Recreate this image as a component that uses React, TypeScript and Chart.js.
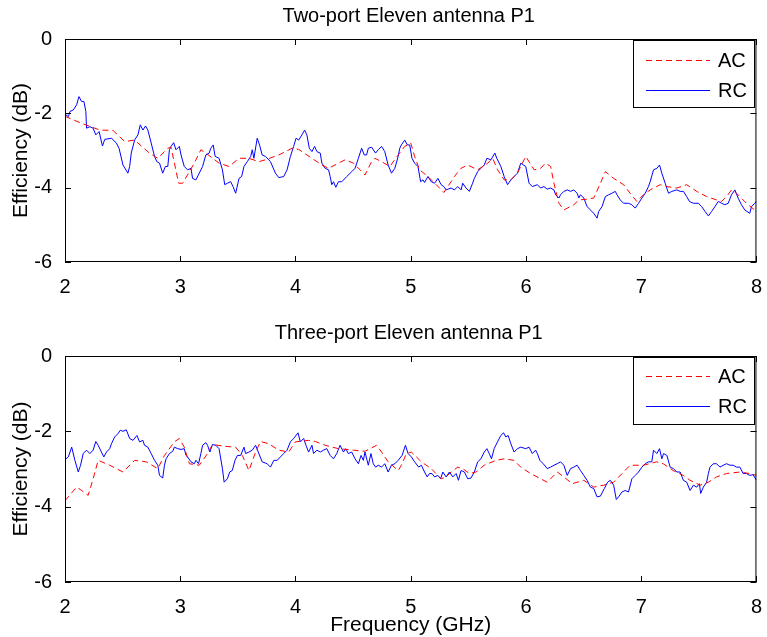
import React, { useEffect, useRef } from 'react';
import { Chart, registerables } from 'chart.js';

Chart.register(...registerables);

const FONT = '"Liberation Sans", Arial, Helvetica, sans-serif';

const xTickValues = [2, 3, 4, 5, 6, 7, 8];
const yTickValues = [0, -2, -4, -6];
const seriesNames = ['AC', 'RC'];
const seriesColors = ['rgb(255,0,0)', 'rgb(0,0,255)'];
const seriesDashes = [[6, 4], []];
const panelTitles = ['Two-port Eleven antenna P1', 'Three-port Eleven antenna P1'];
const xAxisLabel = 'Frequency (GHz)';
const yAxisLabel = 'Efficiency (dB)';

// ---- Top panel: RC (measured, blue) ----
const topRcFreq = [
  2.0, 2.009, 2.029, 2.043, 2.072, 2.101, 2.121, 2.144, 2.164, 2.181, 2.187, 2.216, 2.244, 2.267, 2.296, 2.325,
  2.345, 2.403, 2.446, 2.469, 2.503, 2.546, 2.561, 2.575, 2.604, 2.633, 2.653, 2.676, 2.699, 2.719, 2.748,
  2.777, 2.797, 2.82, 2.848, 2.871, 2.892, 2.906, 2.92, 2.943, 2.963, 2.992, 3.007, 3.035, 3.064, 3.093,
  3.107, 3.136, 3.165, 3.194, 3.222, 3.251, 3.265, 3.286, 3.303, 3.337, 3.366, 3.386, 3.409, 3.438, 3.458,
  3.481, 3.51, 3.533, 3.553, 3.582, 3.611, 3.625, 3.639, 3.668, 3.688, 3.711, 3.74, 3.783, 3.826, 3.855,
  3.898, 3.927, 3.956, 3.984, 4.005, 4.028, 4.056, 4.079, 4.099, 4.12, 4.143, 4.166, 4.186, 4.215, 4.229,
  4.258, 4.287, 4.301, 4.315, 4.33, 4.35, 4.373, 4.402, 4.445, 4.488, 4.517, 4.546, 4.574, 4.597, 4.617,
  4.632, 4.66, 4.695, 4.718, 4.747, 4.775, 4.804, 4.833, 4.862, 4.891, 4.905, 4.919, 4.948, 4.971, 4.991,
  5.011, 5.034, 5.063, 5.086, 5.106, 5.12, 5.149, 5.178, 5.207, 5.236, 5.264, 5.287, 5.307, 5.35, 5.379,
  5.408, 5.437, 5.451, 5.48, 5.509, 5.537, 5.552, 5.581, 5.609, 5.638, 5.661, 5.696, 5.73, 5.747, 5.782,
  5.811, 5.84, 5.869, 5.897, 5.926, 5.955, 5.998, 6.027, 6.055, 6.099, 6.127, 6.156, 6.185, 6.214, 6.243,
  6.257, 6.286, 6.3, 6.329, 6.358, 6.387, 6.415, 6.444, 6.459, 6.473, 6.502, 6.531, 6.559, 6.588, 6.617,
  6.631, 6.66, 6.689, 6.718, 6.746, 6.775, 6.79, 6.818, 6.847, 6.89, 6.919, 6.948, 6.977, 7.006, 7.035,
  7.063, 7.078, 7.107, 7.136, 7.159, 7.179, 7.208, 7.237, 7.266, 7.309, 7.338, 7.366, 7.395, 7.418, 7.453,
  7.496, 7.525, 7.554, 7.583, 7.611, 7.64, 7.669, 7.698, 7.726, 7.755, 7.784, 7.813, 7.841, 7.87, 7.899,
  7.942, 7.957, 7.985, 8.0,
];
const topRcEff = [
  -2.06, -2.04, -2.09, -1.95, -1.91, -1.77, -1.55, -1.68, -1.68, -1.95, -2.4, -2.36, -2.4, -2.58, -2.49, -2.88,
  -2.7, -2.67, -2.8, -2.94, -3.39, -3.61, -3.43, -3.07, -2.72, -2.58, -2.31, -2.45, -2.34, -2.45, -2.8,
  -3.16, -3.3, -3.34, -3.61, -3.43, -3.43, -2.98, -2.89, -2.79, -2.98, -2.89, -3.12, -3.43, -3.52, -3.48,
  -3.75, -3.79, -3.61, -3.43, -3.12, -3.07, -2.94, -2.85, -3.16, -3.21, -3.52, -3.92, -3.88, -3.84, -3.97,
  -4.15, -3.75, -3.7, -3.43, -3.3, -3.16, -2.98, -3.21, -2.67, -2.85, -3.12, -3.16, -3.3, -3.61, -3.73,
  -3.7, -3.52, -3.16, -2.89, -2.67, -2.72, -2.58, -2.45, -2.58, -2.94, -3.03, -2.89, -3.03, -3.07, -3.34,
  -3.48, -3.52, -3.7, -3.92, -3.84, -3.99, -3.84, -3.84, -3.7, -3.57, -3.48, -3.21, -2.94, -3.12, -3.12,
  -2.94, -2.91, -3.07, -2.98, -2.89, -3.03, -3.39, -3.61, -3.48, -3.16, -2.94, -2.85, -2.72, -2.85, -2.85,
  -3.21, -3.34, -3.43, -3.84, -3.79, -3.86, -3.7, -3.84, -3.88, -3.75, -3.92, -3.97, -4.06, -4.01, -4.06,
  -3.97, -4.06, -3.88, -4.01, -4.1, -3.88, -3.75, -3.57, -3.48, -3.39, -3.21, -3.25, -3.07, -3.21, -3.43,
  -3.7, -3.92, -3.79, -3.7, -3.61, -3.34, -3.43, -3.88, -3.97, -3.92, -4.01, -3.97, -4.04, -4.01, -4.06,
  -4.19, -4.28, -4.19, -4.1, -4.06, -4.1, -4.06, -4.15, -4.28, -4.19, -4.28, -4.51, -4.6, -4.69, -4.82,
  -4.64, -4.51, -4.24, -4.19, -4.15, -4.1, -4.19, -4.33, -4.42, -4.42, -4.46, -4.55, -4.42, -4.28, -4.15,
  -3.97, -3.84, -3.52, -3.48, -3.39, -3.61, -3.88, -4.15, -4.1, -4.06, -4.1, -4.1, -4.24, -4.37, -4.42,
  -4.42, -4.51, -4.64, -4.76, -4.64, -4.51, -4.37, -4.42, -4.46, -4.42, -4.19, -4.06, -4.28, -4.46, -4.6,
  -4.69, -4.51, -4.42, -4.37,
];

// ---- Top panel: AC (simulated, red dashed) ----
const topAcFreq = [
  2.0, 2.129, 2.302, 2.417, 2.518, 2.604, 2.733, 2.805, 2.892, 2.92, 2.986, 3.021, 3.122, 3.179, 3.222, 3.337,
  3.424, 3.51, 3.596, 3.682, 3.74, 3.855, 3.97, 4.028, 4.143, 4.229, 4.287, 4.373, 4.431, 4.503, 4.56, 4.603,
  4.66, 4.689, 4.747, 4.819, 4.891, 4.948, 5.0, 5.034, 5.077, 5.149, 5.221, 5.287, 5.35, 5.379, 5.437, 5.495,
  5.581, 5.668, 5.711, 5.754, 5.811, 5.869, 5.926, 5.998, 6.071, 6.127, 6.17, 6.214, 6.243, 6.286, 6.329,
  6.415, 6.459, 6.531, 6.588, 6.646, 6.689, 6.761, 6.847, 6.904, 6.962, 7.02, 7.078, 7.165, 7.223, 7.309,
  7.395, 7.482, 7.568, 7.654, 7.698, 7.741, 7.784, 7.827, 7.913, 8.0,
];
const topAcEff = [
  -2.08, -2.25, -2.45, -2.46, -2.76, -2.72, -3.07, -3.21, -2.94, -2.91, -3.88, -3.88, -3.34, -2.98, -3.07, -3.34,
  -3.43, -3.21, -3.21, -3.3, -3.25, -3.12, -2.94, -2.97, -3.21, -3.39, -3.48, -3.34, -3.25, -3.34, -3.52, -3.66,
  -3.3, -3.21, -3.3, -3.43, -3.12, -2.89, -2.8, -3.16, -3.52, -3.7, -3.92, -4.13, -3.84, -3.7, -3.48, -3.39,
  -3.52, -3.34, -3.21, -3.52, -3.79, -3.79, -3.61, -3.16, -3.52, -3.48, -3.34, -3.43, -3.88, -4.42, -4.6,
  -4.46, -4.33, -4.31, -4.28, -3.88, -3.57, -3.75, -3.92, -4.15, -4.37, -4.19, -4.06, -3.92, -3.97, -4.01,
  -3.92, -4.1, -4.24, -4.33, -4.37, -4.24, -4.06, -4.15, -4.42, -4.64,
];

// ---- Bottom panel: RC (measured, blue) ----
const botRcFreq = [
  2.0, 2.009, 2.029, 2.058, 2.086, 2.115, 2.135, 2.158, 2.187, 2.216, 2.244, 2.267, 2.288, 2.316, 2.337, 2.36,
  2.388, 2.403, 2.431, 2.46, 2.48, 2.503, 2.532, 2.561, 2.59, 2.624, 2.647, 2.676, 2.69, 2.719, 2.748, 2.777,
  2.805, 2.82, 2.848, 2.863, 2.877, 2.906, 2.935, 2.949, 2.978, 3.007, 3.035, 3.05, 3.064, 3.093, 3.122,
  3.136, 3.159, 3.179, 3.194, 3.222, 3.237, 3.257, 3.28, 3.309, 3.337, 3.366, 3.381, 3.409, 3.429, 3.452,
  3.475, 3.496, 3.524, 3.553, 3.567, 3.596, 3.625, 3.654, 3.677, 3.711, 3.754, 3.783, 3.812, 3.841, 3.869,
  3.898, 3.927, 3.956, 3.984, 4.022, 4.042, 4.071, 4.091, 4.114, 4.143, 4.157, 4.186, 4.215, 4.243, 4.272,
  4.301, 4.33, 4.358, 4.387, 4.416, 4.436, 4.459, 4.488, 4.517, 4.546, 4.569, 4.589, 4.603, 4.632, 4.655,
  4.675, 4.695, 4.718, 4.747, 4.775, 4.804, 4.833, 4.862, 4.891, 4.925, 4.954, 4.977, 5.006, 5.034, 5.069,
  5.092, 5.12, 5.143, 5.163, 5.184, 5.207, 5.236, 5.259, 5.279, 5.307, 5.336, 5.365, 5.394, 5.414, 5.437,
  5.466, 5.495, 5.523, 5.552, 5.581, 5.609, 5.638, 5.661, 5.681, 5.701, 5.724, 5.753, 5.782, 5.805, 5.825,
  5.845, 5.869, 5.897, 5.926, 5.955, 5.998, 6.027, 6.055, 6.084, 6.099, 6.121, 6.15, 6.185, 6.214, 6.243,
  6.271, 6.3, 6.329, 6.358, 6.387, 6.415, 6.444, 6.473, 6.502, 6.531, 6.559, 6.588, 6.617, 6.646, 6.68,
  6.709, 6.732, 6.761, 6.784, 6.804, 6.833, 6.861, 6.89, 6.919, 6.948, 6.977, 7.006, 7.035, 7.063, 7.092,
  7.107, 7.136, 7.159, 7.179, 7.194, 7.223, 7.251, 7.28, 7.309, 7.338, 7.366, 7.395, 7.424, 7.453, 7.482,
  7.505, 7.516, 7.539, 7.568, 7.583, 7.597, 7.626, 7.654, 7.683, 7.712, 7.741, 7.769, 7.798, 7.827, 7.856,
  7.885, 7.913, 7.942, 7.971, 8.0,
];
const botRcEff = [
  -2.75, -2.73, -2.68, -2.42, -2.77, -3.08, -2.9, -2.59, -2.5, -2.59, -2.5, -2.27, -2.37, -2.55, -2.68, -2.55,
  -2.46, -2.33, -2.15, -2.06, -1.97, -2.0, -1.96, -2.19, -2.24, -2.11, -2.28, -2.24, -2.37, -2.42, -2.59, -2.77,
  -2.9, -3.17, -3.24, -2.9, -2.73, -2.59, -2.53, -2.42, -2.46, -2.48, -2.46, -2.64, -2.68, -2.81, -2.86,
  -2.77, -2.86, -2.59, -2.37, -2.3, -2.37, -2.55, -2.35, -2.37, -2.46, -2.99, -3.35, -3.26, -3.08, -3.04,
  -2.77, -2.64, -2.64, -2.42, -2.59, -2.55, -2.5, -2.37, -2.55, -2.81, -2.86, -2.95, -2.77, -2.77, -2.68,
  -2.59, -2.5, -2.28, -2.19, -2.04, -2.28, -2.19, -2.37, -2.55, -2.37, -2.59, -2.5, -2.55, -2.5, -2.46,
  -2.64, -2.73, -2.59, -2.37, -2.55, -2.46, -2.59, -2.55, -2.73, -2.86, -2.64, -2.77, -2.55, -2.9, -2.59,
  -2.86, -2.95, -2.9, -2.95, -2.86, -3.08, -2.9, -2.86, -2.77, -2.64, -2.37, -2.59, -2.68, -2.81, -2.95,
  -2.9, -3.08, -3.21, -3.12, -3.12, -3.21, -3.17, -3.26, -3.08, -3.21, -3.08, -3.21, -3.12, -3.3, -3.04,
  -3.08, -3.26, -3.24, -3.08, -2.81, -2.73, -2.55, -2.46, -2.59, -2.73, -2.46, -2.28, -2.11, -2.04, -2.15,
  -2.11, -2.33, -2.55, -2.46, -2.42, -2.46, -2.42, -2.59, -2.5, -2.59, -2.77, -2.86, -2.99, -2.95, -2.9,
  -2.86, -2.81, -2.9, -3.17, -2.99, -2.95, -2.9, -3.04, -3.17, -3.3, -3.48, -3.52, -3.74, -3.72, -3.52,
  -3.35, -3.3, -3.43, -3.81, -3.74, -3.61, -3.57, -3.61, -3.26, -3.17, -3.08, -2.95, -2.86, -2.81, -2.81,
  -2.5, -2.59, -2.46, -2.73, -2.59, -2.64, -2.95, -2.99, -3.08, -3.08, -3.3, -3.35, -3.57, -3.43, -3.48,
  -3.39, -3.65, -3.48, -3.35, -3.12, -2.95, -2.86, -2.86, -2.95, -2.9, -2.86, -2.9, -2.9, -2.95, -2.95,
  -3.12, -3.12, -3.17, -3.15, -3.3,
];

// ---- Bottom panel: AC (simulated, red dashed) ----
const botAcFreq = [
  2.0, 2.101, 2.144, 2.201, 2.244, 2.288, 2.388, 2.503, 2.604, 2.705, 2.805, 2.863, 2.949, 2.992, 3.035, 3.079,
  3.165, 3.237, 3.28, 3.395, 3.481, 3.539, 3.596, 3.654, 3.697, 3.769, 3.855, 3.941, 3.999, 4.114, 4.172,
  4.258, 4.373, 4.503, 4.603, 4.704, 4.747, 4.804, 4.891, 4.919, 4.963, 5.006, 5.049, 5.092, 5.178, 5.264,
  5.307, 5.35, 5.408, 5.451, 5.509, 5.567, 5.638, 5.739, 5.811, 5.897, 5.955, 6.041, 6.127, 6.185, 6.271,
  6.329, 6.401, 6.502, 6.588, 6.674, 6.761, 6.847, 6.904, 7.02, 7.134, 7.191, 7.277, 7.366, 7.424, 7.511,
  7.583, 7.654, 7.741, 7.856, 7.942, 8.0,
];
const botAcEff = [
  -3.84, -3.48, -3.57, -3.7, -3.26, -2.77, -2.9, -3.08, -2.77, -2.81, -2.99, -2.64, -2.28, -2.19, -2.42, -2.86,
  -2.9, -2.59, -2.35, -2.4, -2.42, -2.64, -3.04, -2.55, -2.27, -2.33, -2.5, -2.55, -2.28, -2.24, -2.27,
  -2.37, -2.46, -2.5, -2.53, -2.37, -2.55, -2.81, -3.04, -2.9, -2.59, -2.55, -2.68, -2.81, -2.99, -3.26,
  -3.21, -3.08, -2.95, -2.99, -3.12, -3.08, -2.9, -2.77, -2.73, -2.77, -2.95, -3.12, -3.26, -3.35, -3.08,
  -3.21, -3.39, -3.3, -3.48, -3.43, -3.35, -3.08, -2.9, -2.9, -2.81, -2.86, -3.04, -3.17, -3.3, -3.43,
  -3.35, -3.21, -3.12, -3.08, -3.12, -3.17,
];

const toPoints = (xs: number[], ys: number[]) => xs.map((x, i) => ({ x, y: ys[i] }));

const matlabPlugin = {
  id: 'matlab',
  afterDraw(chart: any, _args: any, opts: any) {
    const { ctx, chartArea } = chart;
    const { left, top, right, bottom } = chartArea;
    const xs = chart.scales.x;
    const ys = chart.scales.y;
    ctx.save();
    ctx.globalAlpha = 1;
    ctx.globalCompositeOperation = 'source-over';
    // frame
    ctx.strokeStyle = 'rgb(0,0,0)';
    ctx.lineWidth = 1;
    ctx.setLineDash([]);
    ctx.strokeRect(left + 0.5, top + 0.5, right - left - 1, bottom - top - 1);
    // inward ticks
    ctx.beginPath();
    for (const t of xTickValues) {
      const px = Math.round(xs.getPixelForValue(t)) + 0.5;
      ctx.moveTo(px, bottom);
      ctx.lineTo(px, bottom - 6);
      ctx.moveTo(px, top);
      ctx.lineTo(px, top + 6);
    }
    for (const t of yTickValues) {
      const py = Math.round(ys.getPixelForValue(t)) + 0.5;
      ctx.moveTo(left, py);
      ctx.lineTo(left + 6, py);
      ctx.moveTo(right, py);
      ctx.lineTo(right - 6, py);
    }
    ctx.stroke();

    // legend box
    const bw = 121;
    const bh = 67;
    const bx = Math.round(right) - 123;
    const by = Math.round(top) + 1;
    ctx.fillStyle = 'rgb(255,255,255)';
    ctx.fillRect(bx, by, bw, bh);
    ctx.strokeStyle = 'rgb(0,0,0)';
    ctx.lineWidth = 1;
    ctx.strokeRect(bx + 0.5, by + 0.5, bw, bh);
    const pageTop = opts.pageTop || 0;
    const rows = [by + 19, by + 49].map((r) => ((pageTop + r) % 2 === 1 ? r + 1 : r));
    for (let i = 0; i < seriesNames.length; i++) {
      const y = rows[i];
      ctx.fillStyle = seriesColors[i];
      const x0 = bx + 13;
      const x1 = bx + 77;
      const dash = seriesDashes[i];
      if (dash.length === 0) {
        ctx.fillRect(x0, y, x1 - x0, 1);
      } else {
        let x = x0;
        while (x < x1) {
          const w = Math.min(dash[0], x1 - x);
          ctx.fillRect(x, y, w, 1);
          x += dash[0] + dash[1];
        }
      }
      ctx.fillStyle = 'rgb(0,0,0)';
      ctx.font = `20px ${FONT}`;
      ctx.textAlign = 'left';
      ctx.textBaseline = 'middle';
      ctx.fillText(seriesNames[i], bx + 85, y + 1);
    }

    // title
    ctx.fillStyle = 'rgb(0,0,0)';
    ctx.font = `20px ${FONT}`;
    ctx.textAlign = 'center';
    ctx.textBaseline = 'alphabetic';
    ctx.fillText(opts.title, (left + right) / 2 - 2, top - 17);

    // y label
    ctx.save();
    ctx.translate(27, (top + bottom) / 2);
    ctx.rotate(-Math.PI / 2);
    ctx.font = `21px ${FONT}`;
    ctx.textAlign = 'center';
    ctx.textBaseline = 'alphabetic';
    ctx.fillText(yAxisLabel, 0, 0);
    ctx.restore();

    // x label
    if (opts.xLabel) {
      ctx.fillStyle = 'rgb(0,0,0)';
      ctx.font = `21px ${FONT}`;
      ctx.textAlign = 'center';
      ctx.textBaseline = 'alphabetic';
      ctx.fillText(opts.xLabel, (left + right) / 2, bottom + 49);
    }
    ctx.restore();
  },
};

type PanelProps = {
  top: number;
  height: number;
  areaTop: number;
  axisHeight: number;
  title: string;
  xLabel?: string;
  rcF: number[];
  rcV: number[];
  acF: number[];
  acV: number[];
};

function Panel(p: PanelProps) {
  const ref = useRef<HTMLCanvasElement>(null);
  useEffect(() => {
    const tickFont = { family: FONT, size: 20 };
    const chart = new Chart(ref.current as HTMLCanvasElement, {
      type: 'line',
      data: {
        datasets: [
          {
            label: seriesNames[0],
            data: toPoints(p.acF, p.acV),
            borderColor: seriesColors[0],
            borderWidth: 1,
            borderDash: [...seriesDashes[0]],
            pointRadius: 0,
            tension: 0,
            fill: false,
          },
          {
            label: seriesNames[1],
            data: toPoints(p.rcF, p.rcV),
            borderColor: seriesColors[1],
            borderWidth: 1,
            pointRadius: 0,
            tension: 0,
            fill: false,
          },
        ],
      },
      options: {
        responsive: false,
        animation: false,
        events: [],
        layout: { padding: { top: p.areaTop, right: 7, left: 0, bottom: 0 } },
        scales: {
          x: {
            type: 'linear',
            min: 2,
            max: 8,
            afterFit: (s: any) => {
              s.height = p.axisHeight;
            },
            grid: { display: false },
            border: { display: false },
            ticks: {
              stepSize: 1,
              padding: 5,
              color: '#000',
              font: tickFont,
              maxRotation: 0,
              autoSkip: false,
            },
          },
          y: {
            type: 'linear',
            min: -6,
            max: 0,
            afterFit: (s: any) => {
              s.width = 65;
            },
            grid: { display: false },
            border: { display: false },
            ticks: {
              stepSize: 2,
              padding: 5,
              color: '#000',
              font: tickFont,
              autoSkip: false,
            },
          },
        },
        plugins: {
          legend: { display: false },
          tooltip: { enabled: false },
          title: { display: false },
          matlab: { title: p.title, xLabel: p.xLabel, pageTop: p.top },
        } as any,
      },
      plugins: [matlabPlugin as any],
    });
    return () => chart.destroy();
  }, []);
  return (
    <canvas
      ref={ref}
      width={767}
      height={p.height}
      style={{ position: 'absolute', left: 0, top: p.top, display: 'block' }}
    />
  );
}

export default function App() {
  return (
    <div
      style={{
        position: 'absolute',
        left: 0,
        top: 0,
        width: 767,
        height: 637,
        background: '#fff',
        overflow: 'hidden',
      }}
    >
      <Panel
        top={0}
        height={318}
        areaTop={39}
        axisHeight={56}
        title={panelTitles[0]}
        rcF={topRcFreq}
        rcV={topRcEff}
        acF={topAcFreq}
        acV={topAcEff}
      />
      <Panel
        top={318}
        height={319}
        areaTop={38}
        axisHeight={55}
        title={panelTitles[1]}
        xLabel={xAxisLabel}
        rcF={botRcFreq}
        rcV={botRcEff}
        acF={botAcFreq}
        acV={botAcEff}
      />
    </div>
  );
}
